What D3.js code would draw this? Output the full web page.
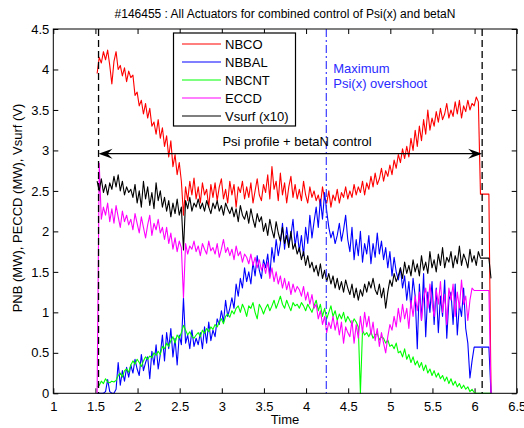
<!DOCTYPE html>
<html><head><meta charset="utf-8">
<script src="https://cdn.jsdelivr.net/npm/d3@7"></script>
<style>
body{margin:0;background:#fff}
svg{display:block}
text{font-family:"Liberation Sans",Arial,Helvetica,sans-serif;fill:#000}
</style>
</head><body>
<svg id="chart" width="524" height="428"></svg>
<script>
// ---- data ----
const titleText = "#146455 : All Actuators for combined control of Psi(x) and betaN";
const xLabel = "Time";
const yLabel = "PNB (MW), PECCD (MW), Vsurf (V)";
const xTicks = [1, 1.5, 2, 2.5, 3, 3.5, 4, 4.5, 5, 5.5, 6, 6.5];
const yTicks = [0, 0.5, 1, 1.5, 2, 2.5, 3, 3.5, 4, 4.5];
const seriesNames = ["NBCO", "NBBAL", "NBCNT", "ECCD", "Vsurf (x10)"];
const seriesColors = ["#ff0000", "#0000ff", "#00ff00", "#ff00ff", "#000000"];
const tStart = 1.52, tStep = 0.025;   // sampling of the time axis (188 samples)

const NBCO = [
3.95,4.15,4.08,4.22,4.12,4.24,4.05,3.82,
4.10,4.22,4.00,4.05,3.92,4.02,3.85,3.98,
3.90,3.93,3.68,3.72,3.55,3.62,3.45,3.58,
3.40,3.52,3.30,3.35,3.20,3.38,3.15,3.28,
3.05,3.18,2.92,3.12,2.80,2.95,2.70,2.85,
2.62,2.20,2.55,2.38,2.62,2.45,2.66,2.40,
2.55,2.35,2.60,2.45,2.52,2.30,2.58,2.42,
2.60,2.38,2.55,2.65,2.40,2.52,2.35,2.62,
2.45,2.58,2.30,2.55,2.48,2.62,2.40,2.55,
2.42,2.60,2.35,2.50,2.65,2.45,2.38,2.58,
2.48,2.70,2.40,2.80,2.52,2.62,2.38,2.72,
2.45,2.60,2.35,2.55,2.68,2.42,2.58,2.40,
2.52,2.38,2.62,2.45,2.35,2.55,2.42,2.50,
2.38,2.45,2.32,2.55,2.40,2.35,2.50,2.30,
2.45,2.38,2.52,2.35,2.48,2.42,2.55,2.40,
2.50,2.42,2.58,2.45,2.55,2.48,2.62,2.45,
2.60,2.52,2.68,2.55,2.72,2.58,2.65,2.78,
2.62,2.75,2.68,2.82,2.70,2.88,2.78,2.95,
2.85,3.02,2.90,3.05,2.92,3.15,3.00,3.25,
3.05,3.30,3.12,3.38,3.20,3.50,3.25,3.40,
3.30,3.48,3.35,3.52,3.38,3.45,3.58,3.40,
3.50,3.42,3.60,3.45,3.62,3.40,3.55,3.48,
3.62,3.50,3.58,3.55,3.66,3.60,2.46,2.46,
2.46,2.46,2.46,0
];
const NBBAL = [
0,0,0,0,0.02,0.17,0.02,0,
0,0.05,0.38,0.10,0.28,0.15,0.32,0.20,
0.35,0.25,0.42,0.30,0.22,0.48,0.28,0.38,
0.45,0.18,0.52,0.35,0.60,0.30,0.48,0.72,
0.40,0.75,0.55,0.80,0.45,0.68,0.35,0.72,
0.60,1.18,0.62,0.72,0.55,0.78,0.58,0.68,
0.60,0.75,0.55,0.82,0.62,0.88,0.65,0.78,
0.70,0.92,0.85,1.02,0.88,1.15,0.95,1.05,
1.18,1.05,1.35,1.20,1.42,1.30,1.55,1.38,
1.50,1.35,1.62,1.45,1.70,1.52,1.42,1.65,
1.55,1.72,1.45,1.80,1.62,1.90,1.70,1.85,
2.10,1.78,2.05,1.85,1.95,2.15,1.82,2.00,
1.75,1.95,1.70,2.05,1.85,2.20,1.92,2.12,
2.30,2.05,2.40,2.15,2.48,2.25,2.05,1.92,
2.00,1.85,1.95,2.10,1.88,2.02,2.20,1.90,
1.75,2.05,1.65,1.90,1.70,2.00,1.62,1.85,
1.72,1.95,1.60,1.85,1.68,1.98,1.72,1.88,
1.65,1.80,1.55,1.75,1.45,1.68,1.50,1.40,
1.55,1.30,1.45,1.15,1.38,1.05,1.42,1.20,
0.55,1.35,0.90,1.48,0.70,1.25,1.00,1.38,
0.85,1.30,0.75,1.20,0.95,1.40,0.68,1.15,
1.25,0.85,1.35,0.72,1.10,0.95,1.30,0.80,
0.62,0.19,0.40,0.57,0.57,0.57,0.57,0.57,
0.57,0.57,0.57,0
];
const NBCNT = [
0.08,0.10,0.15,0.12,0.18,0.14,0.13,0.15,
0.14,0.16,0.22,0.25,0.20,0.28,0.30,0.26,
0.35,0.40,0.36,0.42,0.38,0.33,0.40,0.45,
0.42,0.46,0.44,0.50,0.47,0.52,0.48,0.58,
0.55,0.62,0.58,0.65,0.70,0.62,0.72,0.68,
0.75,0.84,0.78,0.72,0.76,0.70,0.68,0.72,
0.75,0.70,0.78,0.74,0.80,0.76,0.82,0.79,
0.85,0.82,0.88,0.92,0.86,0.95,0.98,0.94,
1.02,0.98,1.05,1.08,1.00,1.10,1.04,0.95,
1.08,1.05,1.12,1.00,0.92,1.10,1.05,0.98,
1.05,1.10,1.02,1.08,1.15,1.05,1.12,1.20,
1.10,1.05,1.15,1.08,1.02,1.12,1.08,1.10,
1.05,1.12,1.08,1.02,1.10,1.05,1.00,1.08,
1.15,1.02,1.10,0.95,1.05,0.92,1.00,1.08,
0.95,1.02,0.90,0.98,0.92,1.00,0.88,0.95,
0.90,0.85,0.92,0.88,0.82,0.00,0.78,0.72,
0.75,0.70,0.76,0.68,0.72,0.74,0.66,0.70,
0.68,0.62,0.66,0.58,0.60,0.55,0.62,0.50,
0.52,0.45,0.55,0.42,0.48,0.38,0.45,0.35,
0.40,0.32,0.38,0.28,0.35,0.25,0.30,0.22,
0.28,0.20,0.25,0.18,0.22,0.15,0.20,0.12,
0.18,0.10,0.15,0.08,0.12,0.06,0.10,0.05,
0.08,0.02,0.05,0.01,0,0,0,0,
0,0,0,0
];
const ECCD = [
0,2.84,2.15,2.30,2.20,2.35,2.12,2.28,
2.10,2.32,2.18,2.05,2.25,2.12,2.20,2.08,
2.15,2.02,2.22,2.10,1.98,2.18,2.05,1.92,
2.08,2.20,1.95,2.10,2.02,2.15,1.98,2.05,
1.90,2.05,1.85,1.98,1.78,1.92,1.75,1.88,
1.80,1.18,1.85,1.72,1.82,1.78,1.88,1.75,
1.82,1.70,1.85,1.78,1.72,1.88,1.76,1.80,
1.72,1.85,1.68,1.78,1.90,1.74,1.80,1.70,
1.78,1.65,1.82,1.70,1.75,1.62,1.72,1.68,
1.60,1.72,1.58,1.68,1.55,1.65,1.52,1.60,
1.48,1.62,1.42,1.55,1.38,1.50,1.35,1.45,
1.30,1.42,1.28,1.38,1.22,1.35,1.25,1.32,
1.28,1.20,1.32,1.15,1.25,1.10,1.22,1.05,
1.10,0.92,1.02,0.85,0.95,0.75,0.88,0.80,
0.95,0.78,0.90,0.72,0.88,0.62,0.82,0.75,
0.70,0.90,0.62,0.85,0.68,0.95,0.75,1.00,
0.82,0.95,0.72,0.88,0.65,0.80,0.58,0.75,
0.62,0.50,0.70,0.85,0.78,0.95,0.82,1.05,
0.88,1.10,0.92,1.05,0.80,1.15,0.95,1.20,
1.02,1.25,0.90,1.18,1.30,1.05,1.35,1.12,
0.95,1.28,1.10,1.38,1.00,1.22,0.85,1.30,
1.15,1.35,0.95,1.25,1.05,1.40,1.10,1.20,
0.90,1.15,1.30,1.27,1.27,1.27,1.27,1.27,
1.27,1.27,1.27,0
];
const Vsurf = [
2.62,2.50,2.65,2.48,2.58,2.45,2.60,2.52,
2.68,2.55,2.70,2.50,2.62,2.45,2.55,2.48,
2.52,2.42,2.58,2.35,2.50,2.30,2.62,2.40,
2.55,2.32,2.48,2.28,2.60,2.38,2.50,2.30,
2.42,2.25,2.38,2.18,2.35,2.22,2.40,2.20,
2.30,1.77,2.38,2.28,2.42,2.25,2.35,2.30,
2.40,2.28,2.35,2.25,2.38,2.30,2.22,2.35,
2.28,2.38,2.25,2.32,2.20,2.35,2.28,2.22,
2.30,2.18,2.28,2.12,2.32,2.20,2.15,2.25,
2.10,2.28,2.15,2.05,2.22,2.12,2.18,2.00,
2.10,1.95,2.15,2.02,1.92,2.12,1.98,1.88,
2.05,1.85,1.95,1.80,2.00,1.78,1.85,1.72,
1.80,1.65,1.75,1.58,1.70,1.55,1.62,1.50,
1.58,1.45,1.60,1.42,1.52,1.38,1.48,1.35,
1.45,1.30,1.42,1.28,1.38,1.25,1.40,1.30,
1.22,1.35,1.18,1.30,1.15,1.28,1.20,1.35,
1.25,1.38,1.30,1.42,1.28,1.22,1.35,1.18,
1.30,1.05,1.25,1.40,1.32,1.48,1.38,1.45,
1.55,1.42,1.62,1.48,1.58,1.45,1.65,1.50,
1.60,1.45,1.70,1.52,1.62,1.48,1.75,1.55,
1.65,1.50,1.72,1.58,1.80,1.55,1.68,1.62,
1.75,1.55,1.70,1.60,1.82,1.58,1.72,1.65,
1.55,1.78,1.62,1.70,1.58,1.75,1.67,1.67,
1.67,1.67,1.67,1.42
];
const controlStart = 1.537, controlEnd = 6.09, arrowLevel = 2.96;
const overshootTime = 4.24;
const controlLabel = "Psi profile + betaN control";
const overshootLabel = ["Maximum", "Psi(x) overshoot"];

// ---- chart ----
const svg = d3.select("#chart");
const L = 53.3, R = 516.7, T = 29, B = 393.3;
const x = d3.scaleLinear().domain([1, 6.5]).range([L, R]);
const y = d3.scaleLinear().domain([0, 4.5]).range([B, T]);
const fmt = d3.format("~g");

const allSeries = [NBCO, NBBAL, NBCNT, ECCD, Vsurf];

// title
svg.append("text").attr("x", 285).attr("y", 18).attr("text-anchor", "middle")
  .attr("font-size", 12).text(titleText);

// axes (inward ticks)
const gx = svg.append("g").attr("transform", `translate(0,${B})`)
  .call(d3.axisBottom(x).tickValues(xTicks).tickFormat(fmt).tickSizeInner(-5).tickSizeOuter(0).tickPadding(8));
const gxt = svg.append("g").attr("transform", `translate(0,${T})`)
  .call(d3.axisTop(x).tickValues(xTicks).tickFormat("").tickSizeInner(-5).tickSizeOuter(0));
const gy = svg.append("g").attr("transform", `translate(${L},0)`)
  .call(d3.axisLeft(y).tickValues(yTicks).tickFormat(fmt).tickSizeInner(-5).tickSizeOuter(0).tickPadding(4));
const gyr = svg.append("g").attr("transform", `translate(${R},0)`)
  .call(d3.axisRight(y).tickValues(yTicks).tickFormat("").tickSizeInner(-5).tickSizeOuter(0));
[gx, gxt, gy, gyr].forEach(g => {
  g.select(".domain").remove();
  g.selectAll("line").attr("stroke", "#000");
  g.selectAll("text").attr("font-size", 13).attr("font-family", "Liberation Sans, Arial, sans-serif");
});

// series lines
const line = d3.line().x((d, i) => x(tStart + i * tStep)).y(d => y(d));
allSeries.forEach((s, k) => {
  svg.append("path").datum(s).attr("d", line).attr("fill", "none")
    .attr("stroke", seriesColors[k]).attr("stroke-width", 1.1).attr("stroke-linejoin", "round");
});

// control window dashed lines
[controlStart, controlEnd].forEach(t => {
  svg.append("line").attr("x1", x(t)).attr("x2", x(t)).attr("y1", y(4.5)).attr("y2", y(0))
    .attr("stroke", "#000").attr("stroke-width", 1.3).attr("stroke-dasharray", "7,4");
});
// overshoot dash-dot line
svg.append("line").attr("x1", x(overshootTime)).attr("x2", x(overshootTime)).attr("y1", y(4.5)).attr("y2", y(0))
  .attr("stroke", "#2a2aff").attr("stroke-width", 1.1).attr("stroke-dasharray", "8,3,2,3");
overshootLabel.forEach((s, i) => {
  svg.append("text").attr("x", x(overshootTime) + 7).attr("y", 73 + i * 15)
    .attr("font-size", 13).style("fill", "#2a2aff").text(s);
});

// double arrow
const ax1 = x(controlStart), ax2 = x(controlEnd), ay = y(arrowLevel);
svg.append("line").attr("x1", ax1 + 4).attr("x2", ax2 - 4).attr("y1", ay).attr("y2", ay)
  .attr("stroke", "#000").attr("stroke-width", 1.2);
svg.append("path").attr("d", `M${ax1},${ay}L${ax1 + 14},${ay - 5}L${ax1 + 9},${ay}L${ax1 + 14},${ay + 5}Z`).attr("fill", "#000");
svg.append("path").attr("d", `M${ax2},${ay}L${ax2 - 14},${ay - 5}L${ax2 - 9},${ay}L${ax2 - 14},${ay + 5}Z`).attr("fill", "#000");
svg.append("text").attr("x", 297).attr("y", 146).attr("text-anchor", "middle")
  .attr("font-size", 13).text(controlLabel);

// frame
svg.append("rect").attr("x", L).attr("y", T).attr("width", R - L).attr("height", B - T)
  .attr("fill", "none").attr("stroke", "#000").attr("stroke-width", 1);

// legend
const lg = svg.append("g");
lg.append("rect").attr("x", 173.5).attr("y", 33).attr("width", 122).attr("height", 93)
  .attr("fill", "#fff").attr("stroke", "#000").attr("stroke-width", 1.2);
seriesNames.forEach((n, i) => {
  const yy = 44 + i * 18;
  lg.append("line").attr("x1", 182).attr("x2", 221).attr("y1", yy).attr("y2", yy)
    .attr("stroke", seriesColors[i]).attr("stroke-width", 1.1);
  lg.append("text").attr("x", 225).attr("y", yy + 4.5).attr("font-size", 13).text(n);
});

// axis labels
svg.append("text").attr("x", 285).attr("y", 424).attr("text-anchor", "middle")
  .attr("font-size", 13).text(xLabel);
svg.append("text").attr("transform", `translate(22,208) rotate(-90)`)
  .attr("text-anchor", "middle").attr("font-size", 13).text(yLabel);
</script>
</body></html>
